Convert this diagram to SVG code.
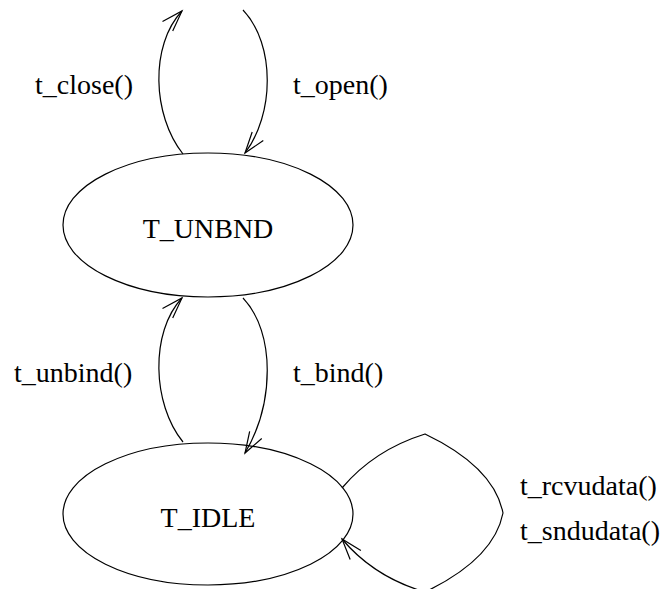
<svg xmlns="http://www.w3.org/2000/svg" width="664" height="589" viewBox="0 0 664 589">
<style>
.node{fill:none;stroke:#000;stroke-width:1.2}
.edge{fill:none;stroke:#000;stroke-width:1.2}
text{font-family:"Liberation Serif","Times New Roman",serif;font-size:28px;fill:#000}
</style>
<defs>
<marker id="arr" markerUnits="userSpaceOnUse" markerWidth="30" markerHeight="30" viewBox="-25 -15 30 30" refX="0" refY="0" orient="auto">
<path d="M-21,-7 L0,0 L-21,7" fill="none" stroke="#000" stroke-width="1.2"/>
</marker>
</defs>
<rect width="664" height="589" fill="#fff"/>
<g id="edges">
<path class="edge" d="M183,154 C152,115 150,45 182,11" marker-end="url(#arr)"/>
<path class="edge" d="M243,10 C276,45 274,115 245,153" marker-end="url(#arr)"/>
<path class="edge" d="M183,442 C152,404 150,332 182,298" marker-end="url(#arr)"/>
<path class="edge" d="M243,298 C276,333 274,404 245,453" marker-end="url(#arr)"/>
<path class="edge" d="M342,488 Q374,450 425,434 Q494,467 503,513 Q494,559 425,592 Q374,577 342,539" marker-end="url(#arr)"/>
</g>
<g id="labels">
<text x="35" y="94">t_close()</text>
<text x="293" y="94">t_open()</text>
<text x="14" y="382">t_unbind()</text>
<text x="293" y="382">t_bind()</text>
<text x="520" y="495">t_rcvudata()</text>
<text x="520" y="540">t_sndudata()</text>
</g>
<g id="T_UNBND">
<ellipse class="node" cx="208" cy="225" rx="145" ry="72"/>
<text x="208" y="238" text-anchor="middle">T_UNBND</text>
</g>
<g id="T_IDLE">
<ellipse class="node" cx="208" cy="514" rx="145" ry="71"/>
<text x="208" y="527" text-anchor="middle">T_IDLE</text>
</g>
</svg>
